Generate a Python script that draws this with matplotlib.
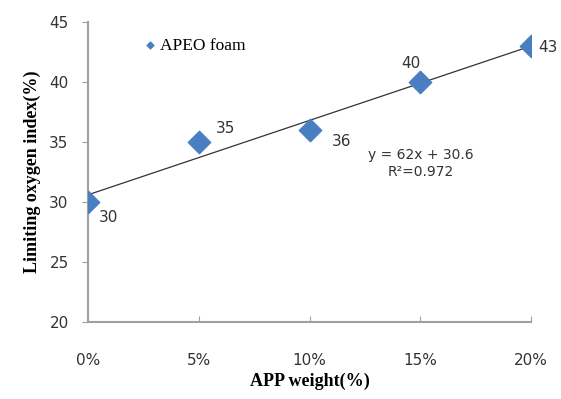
import numpy as np
import matplotlib.pyplot as plt

app_weight = [0.00, 0.05, 0.10, 0.15, 0.20]
loi = [30, 35, 36, 40, 43]
point_labels = ["30", "35", "36", "40", "43"]
x_ticks = [0.00, 0.05, 0.10, 0.15, 0.20]
x_ticklabels = ["0%", "5%", "10%", "15%", "20%"]
y_ticks = [20, 25, 30, 35, 40, 45]
eq_text = "y = 62x + 30.6"
r2_text = "R\u00b2=0.972"

# linear trendline, like excel's
slope, intercept = np.polyfit(app_weight, loi, 1)

fig = plt.figure(figsize=(5.61, 3.99), dpi=100)
ax = fig.add_axes([0.157, 0.193, 0.79, 0.752])

xs = np.array([0.0, 0.2])
ax.plot(xs, slope * xs + intercept, color="#333333", linewidth=0.9, zorder=2)
ax.scatter(app_weight, loi, marker="D", s=130, color="#4A7EC2", zorder=3,
           label="APEO foam")

offsets = [(8, -11), (12, 10), (16, -8), (-14, 13), (5, -1)]
for x, y, t, off in zip(app_weight, loi, point_labels, offsets):
    ax.annotate(t, (x, y), xytext=off, textcoords="offset points",
                fontsize=11, color="#333333", family="DejaVu Sans",
                ha="left", va="center", zorder=4)

ax.text(0.15, 33.9, eq_text, fontsize=10, color="#333333", ha="center",
        va="center", family="DejaVu Sans")
ax.text(0.15, 32.5, r2_text, fontsize=10, color="#333333", ha="center",
        va="center", family="DejaVu Sans")

ax.set_xlim(0, 0.2)
ax.set_ylim(20, 45)
ax.set_xticks(x_ticks)
ax.set_xticklabels(x_ticklabels)
ax.set_yticks(y_ticks)
ax.tick_params(axis="x", direction="in", length=4, color="#A0A0A0",
               pad=22, labelsize=11, labelcolor="#333333")
ax.tick_params(axis="y", direction="out", length=4, color="#A0A0A0",
               pad=10, labelsize=11, labelcolor="#333333")
for s in ["top", "right"]:
    ax.spines[s].set_visible(False)
for s in ["left", "bottom"]:
    ax.spines[s].set_color("#A0A0A0")
    ax.spines[s].set_linewidth(1.5)

ax.set_xlabel("APP weight(%)", fontsize=13, fontweight="bold",
              family="Liberation Serif", labelpad=4)
ax.set_ylabel("Limiting oxygen index(%)", fontsize=13, fontweight="bold",
              family="Liberation Serif", labelpad=6)

ax.legend(loc="upper left", bbox_to_anchor=(0.085, 1.0), frameon=False,
          markerscale=0.3, handletextpad=0.1, handlelength=1,
          prop={"family": "Liberation Serif", "size": 12.5})

fig.savefig("out.png", dpi=100)
